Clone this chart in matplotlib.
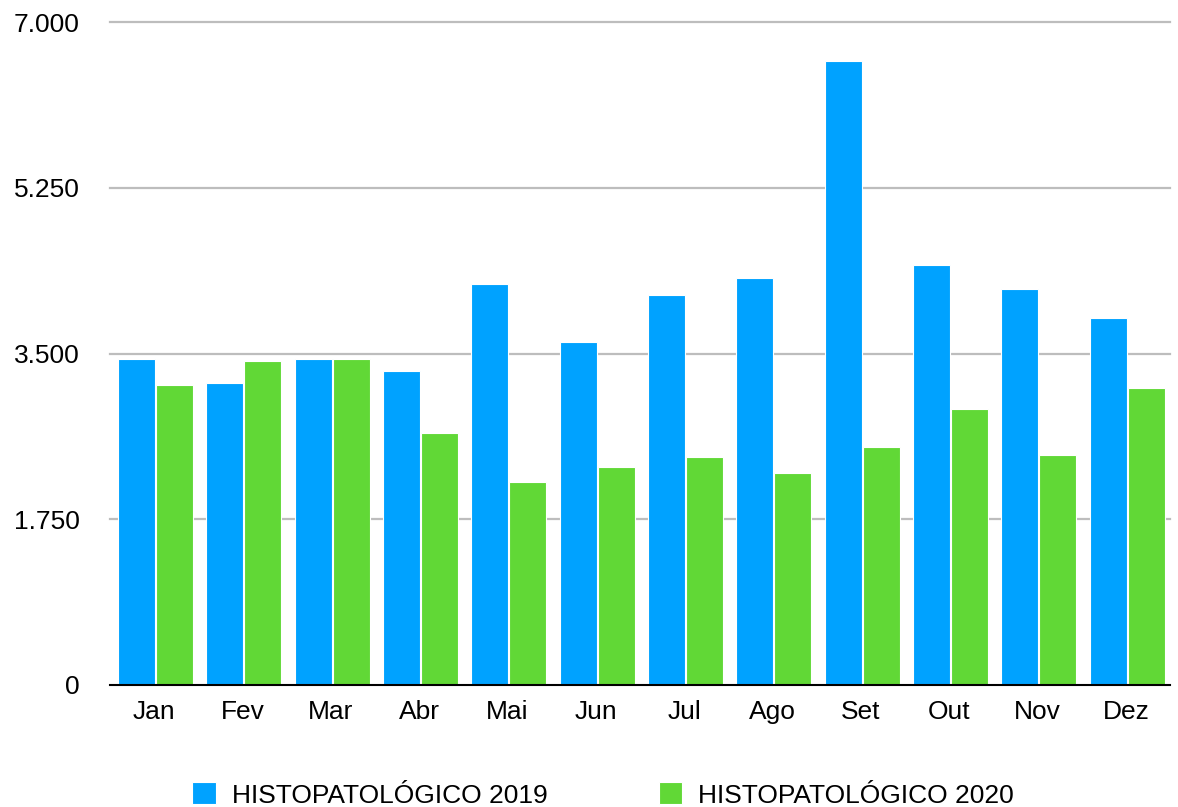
import matplotlib.pyplot as plt
import numpy as np

months = ["Jan", "Fev", "Mar", "Abr", "Mai", "Jun", "Jul", "Ago", "Set", "Out", "Nov", "Dez"]
histo_2019 = [3442, 3189, 3442, 3315, 4234, 3621, 4118, 4297, 6588, 4434, 4181, 3875]
histo_2020 = [3167, 3421, 3442, 2661, 2143, 2302, 2407, 2238, 2513, 2914, 2428, 3136]
yticks = [0, 1750, 3500, 5250, 7000]
ytick_labels = ["0", "1.750", "3.500", "5.250", "7.000"]

plt.rcParams['font.family'] = ['Liberation Sans', 'DejaVu Sans']

fig = plt.figure(figsize=(11.78, 8.07), dpi=100)
ax = fig.add_axes([0.0934, 0.1512, 0.8998, 0.8215])

x = np.arange(len(months))
w = 0.42
ax.bar(x - 0.2, histo_2019, w, color='#00A2FF', edgecolor='white', linewidth=0.8,
       label='HISTOPATOLÓGICO 2019', zorder=3)
ax.bar(x + 0.23, histo_2020, w, color='#61D836', edgecolor='white', linewidth=0.8,
       label='HISTOPATOLÓGICO 2020', zorder=3)

ax.set_xlim(-0.5, len(months) - 0.5)
ax.set_ylim(0, 7000)
ax.set_yticks(yticks)
ax.set_yticklabels(ytick_labels, fontsize=19)
ax.set_xticks(x)
ax.set_xticklabels(months, fontsize=19)
ax.tick_params(axis='both', length=0)
ax.tick_params(axis='y', pad=22)
ax.tick_params(axis='x', pad=11)

for yv in yticks[1:]:
    ax.axhline(yv, color='#BDBDBD', lw=1.6, zorder=1, clip_on=False)

for s in ['top', 'right', 'left']:
    ax.spines[s].set_visible(False)
ax.spines['bottom'].set_color('black')
ax.spines['bottom'].set_linewidth(1.5)
ax.spines['bottom'].set_zorder(4)

fig.legend(loc='center', bbox_to_anchor=(0.512, 0.0149), ncol=2, frameon=False,
           fontsize=19, handlelength=0.9, handleheight=0.9, handletextpad=0.6,
           columnspacing=4.2)

fig.savefig("out.png", dpi=100)
